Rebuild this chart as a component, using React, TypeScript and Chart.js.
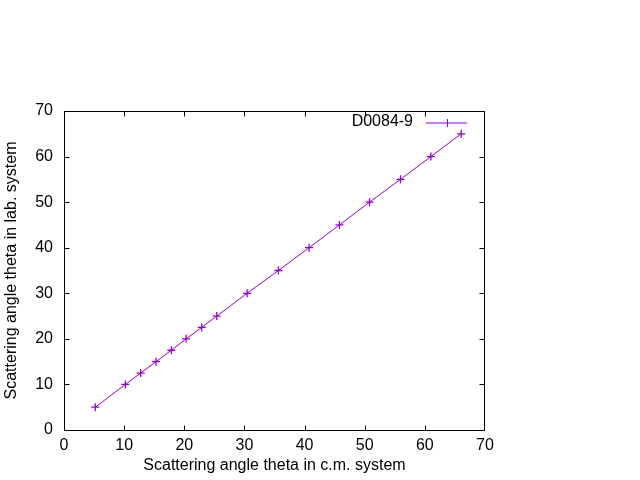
import React, { useEffect, useRef } from "react";
import { Chart, registerables } from "chart.js";

Chart.register(...registerables);

// ---- data ----
const seriesLabel = "D0084-9";
const thetaCM = [5.2, 10.2, 12.75, 15.3, 17.85, 20.3, 22.9, 25.4, 30.45, 35.65, 40.75, 45.8, 50.8, 55.95, 61.0, 66.05];
const thetaLab = [5, 10, 12.5, 15, 17.5, 20, 22.5, 25, 30, 35, 40, 45, 50, 55, 60, 65];
const xTitle = "Scattering angle theta in c.m. system";
const yTitle = "Scattering angle theta in lab. system";
const axisMin = 0;
const axisMax = 70;
const tickStep = 10;

const lineColor = "#9400d3";
const fontFamily = "'Liberation Sans', Arial, sans-serif";

const gnuFrame = {
  id: "gnuFrame",
  afterDatasetsDraw(chart: any) {
    const { ctx, chartArea: a, scales } = chart;
    const L = Math.round(a.left) + 0.5;
    const R = Math.round(a.right) - 0.5;
    const T = Math.round(a.top) + 0.5;
    const B = Math.round(a.bottom) + 0.5;
    const tl = 5;
    ctx.save();
    ctx.strokeStyle = "#000";
    ctx.lineWidth = 1;
    ctx.beginPath();
    ctx.rect(L, T, R - L, B - T);
    const xs = scales.x;
    const ys = scales.y;
    xs.ticks.forEach((t: any) => {
      const px = Math.min(R, Math.max(L, Math.round(xs.getPixelForValue(t.value)) + 0.5));
      ctx.moveTo(px, B);
      ctx.lineTo(px, B - tl);
      ctx.moveTo(px, T);
      ctx.lineTo(px, T + tl);
    });
    ys.ticks.forEach((t: any) => {
      const py = Math.min(B, Math.max(T, Math.round(ys.getPixelForValue(t.value)) + 0.5));
      ctx.moveTo(L, py);
      ctx.lineTo(L + tl, py);
      ctx.moveTo(R, py);
      ctx.lineTo(R - tl, py);
    });
    ctx.stroke();

    // legend (key) in the top-right corner
    const ds = chart.data.datasets[0];
    const ly = Math.round(a.top + 12);
    const x1 = a.right - 59;
    const x2 = a.right - 18;
    ctx.fillStyle = "#000";
    ctx.font = `16px ${fontFamily}`;
    ctx.textAlign = "right";
    ctx.textBaseline = "middle";
    ctx.fillText(ds.label, a.right - 72, ly - 1);
    ctx.strokeStyle = lineColor;
    ctx.lineWidth = 1;
    ctx.beginPath();
    ctx.moveTo(x1, ly);
    ctx.lineTo(x2, ly);
    const mx = Math.round((x1 + x2) / 2) + 0.5;
    ctx.moveTo(mx, ly - 4);
    ctx.lineTo(mx, ly + 4);
    ctx.stroke();
    ctx.restore();
  },
};

export default function App() {
  const ref = useRef<HTMLCanvasElement | null>(null);
  useEffect(() => {
    if (!ref.current) return;
    const chart = new Chart(ref.current, {
      type: "line",
      data: {
        datasets: [
          {
            label: seriesLabel,
            data: thetaCM.map((x, i) => ({ x, y: thetaLab[i] })),
            borderColor: lineColor,
            backgroundColor: lineColor,
            borderWidth: 1,
            pointStyle: "cross",
            pointRadius: 4,
            pointBorderWidth: 1.3,
            pointBorderColor: lineColor,
            tension: 0,
            fill: false,
          },
        ],
      },
      options: {
        responsive: false,
        animation: false,
        devicePixelRatio: 1,
        layout: { padding: { left: 0, right: 155, top: 111, bottom: 0 } },
        plugins: {
          legend: { display: false },
          tooltip: { enabled: false },
        },
        scales: {
          x: {
            type: "linear",
            min: axisMin,
            max: axisMax,
            grid: { display: false, drawTicks: false },
            border: { display: false },
            ticks: {
              stepSize: tickStep,
              padding: 6,
              color: "#000",
              font: { family: fontFamily, size: 16 },
              maxRotation: 0,
            },
            title: {
              display: true,
              text: xTitle,
              color: "#000",
              font: { family: fontFamily, size: 16 },
              padding: { top: 0, bottom: 5 },
            },
            afterFit: (s: any) => {
              s.height = 50;
            },
          },
          y: {
            type: "linear",
            min: axisMin,
            max: axisMax,
            grid: { display: false, drawTicks: false },
            border: { display: false },
            ticks: {
              stepSize: tickStep,
              padding: 11,
              color: "#000",
              font: { family: fontFamily, size: 16 },
            },
            title: {
              display: true,
              text: yTitle,
              color: "#000",
              font: { family: fontFamily, size: 16 },
              padding: { top: 2, bottom: 0 },
            },
            afterFit: (s: any) => {
              s.width = 64;
            },
          },
        },
      },
      plugins: [gnuFrame],
    });
    return () => chart.destroy();
  }, []);
  return (
    <div style={{ position: "absolute", left: 0, top: 0, width: 640, height: 480, background: "#fff" }}>
      <canvas ref={ref} width={640} height={480} style={{ display: "block" }} />
    </div>
  );
}
